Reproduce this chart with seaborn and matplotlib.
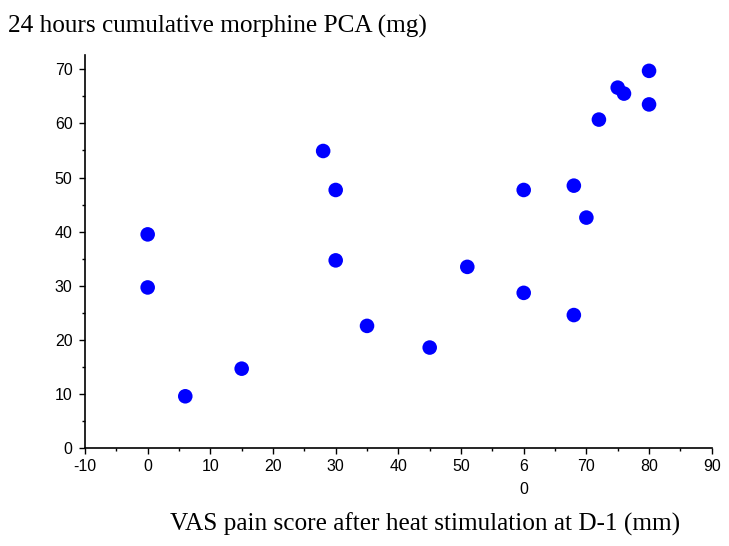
import pandas as pd
import matplotlib.pyplot as plt
import seaborn as sns
from matplotlib.ticker import MultipleLocator

# VAS pain score (mm) vs 24h cumulative morphine PCA (mg)
vas = [0, 0, 6, 15, 28, 30, 30, 35, 45, 51,
       60, 60, 68, 68, 70, 72, 75, 76, 80, 80]
morphine = [39.5, 29.7, 9.6, 14.7, 54.9, 47.7, 34.7, 22.6, 18.6, 33.5,
            47.7, 28.7, 48.5, 24.6, 42.6, 60.7, 66.6, 65.5, 69.7, 63.5]

xticks = [-10, 0, 10, 20, 30, 40, 50, 60, 70, 80, 90]
xticklabels = ["-10", "0", "10", "20", "30", "40", "50", "6\n0", "70", "80", "90"]
yticks = [0, 10, 20, 30, 40, 50, 60, 70]

df = pd.DataFrame({"vas": vas, "morphine": morphine})

sns.set_style("ticks")
plt.rcParams["font.family"] = ["Liberation Sans", "DejaVu Sans"]
plt.rcParams["text.color"] = "black"
plt.rcParams["xtick.color"] = "black"
plt.rcParams["ytick.color"] = "black"

fig = plt.figure(figsize=(7.29, 5.46), dpi=100)
ax = fig.add_axes([0.1166, 0.179, 0.8597, 0.720])

sns.scatterplot(data=df, x="vas", y="morphine", color="#0000ff",
                s=110, edgecolor="none", ax=ax, clip_on=False)

ax.set_xlim(-10, 90)
ax.set_ylim(0, 72.6)
ax.set_xticks(xticks)
ax.set_xticklabels(xticklabels, fontsize=11.5, linespacing=1.6)
ax.set_yticks(yticks)
ax.tick_params(axis="y", labelsize=11.5)
ax.xaxis.set_minor_locator(MultipleLocator(5))
ax.yaxis.set_minor_locator(MultipleLocator(5))
ax.tick_params(which="major", length=4, width=1, direction="out", pad=5)
ax.tick_params(which="minor", length=2.5, width=1, direction="out")
ax.tick_params(axis="x", which="major", pad=4)

for s in ["top", "right"]:
    ax.spines[s].set_visible(False)
for s in ["left", "bottom"]:
    ax.spines[s].set_linewidth(1.2)
    ax.spines[s].set_color("black")

ax.set_xlabel("")
ax.set_ylabel("")
fig.text(0.011, 0.94, "24 hours cumulative morphine PCA (mg)",
         family=["Liberation Serif", "DejaVu Serif"], fontsize=18.2,
         va="baseline", color="black")
fig.text(0.583, 0.028, "VAS pain score after heat stimulation at D-1 (mm)",
         family=["Liberation Serif", "DejaVu Serif"], fontsize=18.2,
         ha="center", va="baseline", color="black")

plt.savefig("out.png", dpi=100)
plt.close()
